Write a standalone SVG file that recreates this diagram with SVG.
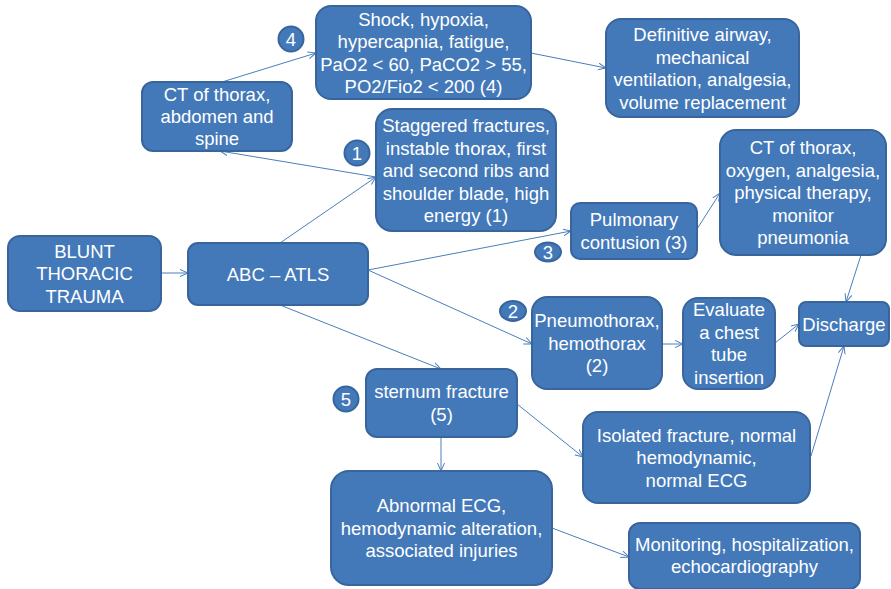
<svg xmlns="http://www.w3.org/2000/svg" width="891" height="589" viewBox="0 0 891 589">
  <defs>
    <style>
      .box { fill: #4479b9; stroke: #37659c; stroke-width: 2; }
      .badge { fill: #4479b9; stroke: #37659c; stroke-width: 2; }
      .lbl { font-family: "Liberation Sans", Arial, sans-serif; font-size: 18.5px; fill: #ffffff; text-anchor: middle; }
      .conn { stroke: #4a7ebb; stroke-width: 1; fill: none; marker-end: url(#arrow); }
    </style>
    <marker id="arrow" markerUnits="userSpaceOnUse" markerWidth="10" markerHeight="10" refX="8" refY="4" orient="auto">
      <path d="M0,0.5 L8,4 L0,7.5" fill="none" stroke="#4a7ebb" stroke-width="1"/>
    </marker>
  </defs>
  <rect width="891" height="589" fill="#ffffff"/>

  <!-- connectors -->
  <g id="connectors">
    <line class="conn" x1="161" y1="273" x2="188" y2="273"/>
    <line class="conn" x1="280" y1="243" x2="376" y2="177"/>
    <line class="conn" x1="376" y1="177" x2="220" y2="151"/>
    <line class="conn" x1="222" y1="82" x2="316" y2="53"/>
    <line class="conn" x1="531" y1="53" x2="606" y2="68"/>
    <line class="conn" x1="368" y1="270" x2="571" y2="231"/>
    <line class="conn" x1="368" y1="270" x2="532" y2="344"/>
    <line class="conn" x1="280" y1="305" x2="441" y2="369"/>
    <line class="conn" x1="697" y1="229" x2="720" y2="193"/>
    <line class="conn" x1="861" y1="255" x2="846" y2="302"/>
    <line class="conn" x1="662" y1="344" x2="683" y2="344"/>
    <line class="conn" x1="775" y1="343" x2="799" y2="324"/>
    <line class="conn" x1="811" y1="456" x2="844" y2="346"/>
    <line class="conn" x1="517" y1="404" x2="583" y2="457"/>
    <line class="conn" x1="441" y1="437" x2="441" y2="471"/>
    <line class="conn" x1="552" y1="528" x2="629" y2="557"/>
  </g>

  <!-- nodes -->
  <g id="n-blunt">
    <rect class="box" x="8" y="236" width="153" height="75" rx="12"/>
    <text class="lbl" x="84.5" y="257.5">BLUNT</text>
    <text class="lbl" x="84.5" y="280">THORACIC</text>
    <text class="lbl" x="84.5" y="302.5">TRAUMA</text>
  </g>
  <g id="n-abc">
    <rect class="box" x="188" y="243" width="180" height="62" rx="10"/>
    <text class="lbl" x="278" y="280.5">ABC – ATLS</text>
  </g>
  <g id="n-ct-abdomen">
    <rect class="box" x="142" y="82" width="150" height="69" rx="11"/>
    <text class="lbl" x="217" y="100.5">CT of thorax,</text>
    <text class="lbl" x="217" y="123">abdomen and</text>
    <text class="lbl" x="217" y="145">spine</text>
  </g>
  <g id="n-shock">
    <rect class="box" x="316" y="6" width="215" height="93" rx="15"/>
    <text class="lbl" x="423.5" y="25.5">Shock, hypoxia,</text>
    <text class="lbl" x="423.5" y="48">hypercapnia, fatigue,</text>
    <text class="lbl" x="423.5" y="70.5">PaO2 &lt; 60, PaCO2 &gt; 55,</text>
    <text class="lbl" x="423.5" y="93">PO2/Fio2 &lt; 200 (4)</text>
  </g>
  <g id="n-definitive">
    <rect class="box" x="606" y="19" width="193" height="98" rx="15"/>
    <text class="lbl" x="702.5" y="41">Definitive airway,</text>
    <text class="lbl" x="702.5" y="63.5">mechanical</text>
    <text class="lbl" x="702.5" y="86">ventilation, analgesia,</text>
    <text class="lbl" x="702.5" y="108.5">volume replacement</text>
  </g>
  <g id="n-staggered">
    <rect class="box" x="376" y="109" width="180" height="122" rx="16"/>
    <text class="lbl" x="466" y="132">Staggered fractures,</text>
    <text class="lbl" x="466" y="154.5">instable thorax, first</text>
    <text class="lbl" x="466" y="177">and second ribs and</text>
    <text class="lbl" x="466" y="199.5">shoulder blade, high</text>
    <text class="lbl" x="466" y="222">energy (1)</text>
  </g>
  <g id="n-pulmonary">
    <rect class="box" x="571" y="203" width="126" height="56" rx="9"/>
    <text class="lbl" x="634" y="226">Pulmonary</text>
    <text class="lbl" x="634" y="248.5">contusion (3)</text>
  </g>
  <g id="n-ct-oxygen">
    <rect class="box" x="720" y="130" width="166" height="125" rx="16"/>
    <text class="lbl" x="803" y="154">CT of thorax,</text>
    <text class="lbl" x="803" y="176.5">oxygen, analgesia,</text>
    <text class="lbl" x="803" y="199">physical therapy,</text>
    <text class="lbl" x="803" y="221.5">monitor</text>
    <text class="lbl" x="803" y="244">pneumonia</text>
  </g>
  <g id="n-pneumothorax">
    <rect class="box" x="532" y="297" width="130" height="92" rx="15"/>
    <text class="lbl" x="597" y="327">Pneumothorax,</text>
    <text class="lbl" x="597" y="349.5">hemothorax</text>
    <text class="lbl" x="597" y="372">(2)</text>
  </g>
  <g id="n-evaluate">
    <rect class="box" x="683" y="298" width="92" height="91" rx="15"/>
    <text class="lbl" x="729" y="316">Evaluate</text>
    <text class="lbl" x="729" y="338.5">a chest</text>
    <text class="lbl" x="729" y="361">tube</text>
    <text class="lbl" x="729" y="383.5">insertion</text>
  </g>
  <g id="n-discharge">
    <rect class="box" x="799" y="302" width="90" height="44" rx="7"/>
    <text class="lbl" x="844" y="330.5">Discharge</text>
  </g>
  <g id="n-sternum">
    <rect class="box" x="366" y="369" width="151" height="68" rx="11"/>
    <text class="lbl" x="441.5" y="398">sternum fracture</text>
    <text class="lbl" x="441.5" y="420.5">(5)</text>
  </g>
  <g id="n-isolated">
    <rect class="box" x="583" y="412" width="227" height="91" rx="15"/>
    <text class="lbl" x="696.5" y="441.5">Isolated fracture, normal</text>
    <text class="lbl" x="696.5" y="464">hemodynamic,</text>
    <text class="lbl" x="696.5" y="486.5">normal ECG</text>
  </g>
  <g id="n-abnormal">
    <rect class="box" x="331" y="471" width="221" height="114" rx="18"/>
    <text class="lbl" x="441.5" y="512">Abnormal ECG,</text>
    <text class="lbl" x="441.5" y="534.5">hemodynamic alteration,</text>
    <text class="lbl" x="441.5" y="557">associated injuries</text>
  </g>
  <g id="n-monitoring">
    <rect class="box" x="629" y="523" width="231" height="66" rx="11"/>
    <text class="lbl" x="744.5" y="550.5">Monitoring, hospitalization,</text>
    <text class="lbl" x="744.5" y="573">echocardiography</text>
  </g>

  <!-- numbered badges -->
  <g id="badge-4">
    <circle class="badge" cx="291" cy="39" r="12.5"/>
    <text class="lbl" x="291" y="45.5">4</text>
  </g>
  <g id="badge-1">
    <circle class="badge" cx="357" cy="153" r="12.5"/>
    <text class="lbl" x="357" y="159.5">1</text>
  </g>
  <g id="badge-3">
    <ellipse class="badge" cx="548" cy="252" rx="13" ry="9.5"/>
    <text class="lbl" x="548" y="258.5">3</text>
  </g>
  <g id="badge-2">
    <ellipse class="badge" cx="513" cy="311" rx="13" ry="10"/>
    <text class="lbl" x="513" y="317.5">2</text>
  </g>
  <g id="badge-5">
    <circle class="badge" cx="346" cy="399" r="12.5"/>
    <text class="lbl" x="346" y="405.5">5</text>
  </g>
</svg>
